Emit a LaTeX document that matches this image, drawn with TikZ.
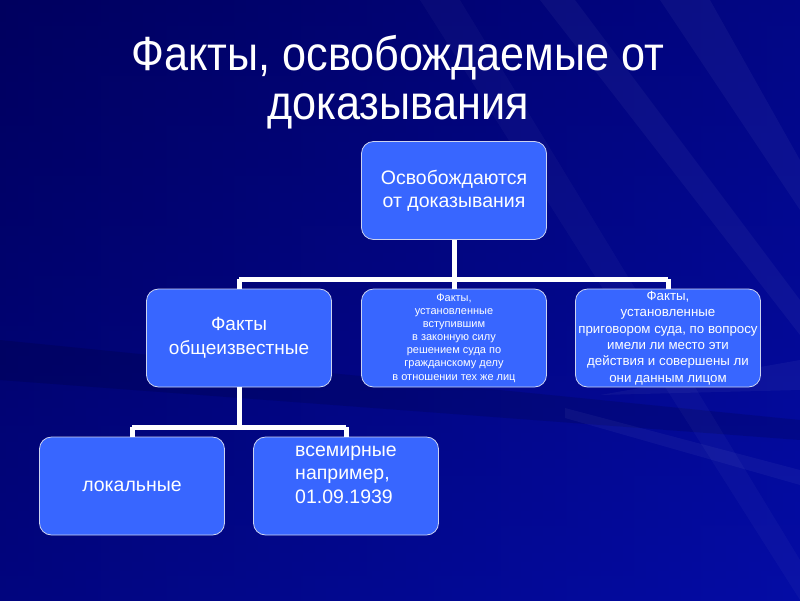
\documentclass[tikz,border=0pt]{standalone}
\usepackage{fontspec}
\setmainfont{Liberation Sans}
\newfontfamily\narrowfont[FakeStretch=0.9]{Liberation Sans}
\definecolor{bgdark}{RGB}{0,0,95}
\definecolor{bgmid}{RGB}{4,12,165}
\definecolor{boxblue}{RGB}{56,102,255}
\definecolor{boxedge}{RGB}{205,212,240}
\tikzset{
  box/.style={draw=boxedge, line width=0.8pt, fill=boxblue, rounded corners=12pt,
    minimum width=185pt, minimum height=98pt, text=white, align=center, inner sep=2pt},
  conn/.style={draw=white, line width=5pt},
  ray/.style={fill=white, opacity=0.045}
}
\begin{document}
\begin{tikzpicture}[x=1pt,y=-1pt]
\useasboundingbox (0,0) rectangle (800,600);
% background
\shade[left color=bgdark, right color=bgmid] (0,0) rectangle (800,600);
\shade[top color=bgdark, bottom color=bgmid, opacity=0.45] (0,0) rectangle (800,600);
\fill[black, opacity=0.12] (0,340) -- (800,420) -- (800,440) -- (0,380) -- cycle;
\fill[ray] (540,0) -- (575,0) -- (800,300) -- (800,335) -- cycle;
\fill[ray] (660,0) -- (710,0) -- (800,160) -- (800,210) -- cycle;
\fill[ray] (565,408) -- (800,470) -- (800,485) -- (565,418) -- cycle;
\fill[ray] (600,395) -- (800,360) -- (800,390) -- cycle;
\fill[ray, opacity=0.03] (420,0) -- (460,0) -- (800,560) -- (800,600) -- cycle;
% title
\node[text=white, font=\narrowfont\fontsize{48}{49}\selectfont, align=center] (title) at (398,82)
  {Факты, освобождаемые от\hspace{14pt}\\доказывания};
% boxes
\node[box, font=\fontsize{19.5}{23}\selectfont] (top) at (454,190.5) {Освобождаются\\ от доказывания};
\node[box, font=\fontsize{19}{24}\selectfont] (known) at (239,338) {Факты\\общеизвестные};
\node[box, font=\fontsize{11}{13.1}\selectfont] (civil) at (454,338)
  {Факты,\\установленные\\вступившим\\в законную силу\\решением суда по\\гражданскому делу\\в отношении тех же лиц};
\node[box, font=\fontsize{13.3}{16.4}\selectfont] (crim) at (668,338)
  {Факты,\\установленные\\приговором суда, по вопросу\\имели ли место эти\\действия и совершены ли\\они данным лицом};
\node[box, font=\fontsize{19.5}{23}\selectfont] (local) at (132,486) {локальные};
\node[box, font=\fontsize{19.5}{23.5}\selectfont, align=left] (world) at (346,486)
  {всемирные\\например,\\01.09.1939\\\mbox{}};
% connectors
\coordinate (j1) at (454,279);
\coordinate (j2) at (239,427);
\draw[conn] (top.south) -- (j1);
\draw[conn] (known.north |- j1) -- (crim.north |- j1);
\draw[conn] (known.north |- j1) -- (known.north);
\draw[conn] (j1) -- (civil.north);
\draw[conn] (crim.north |- j1) -- (crim.north);
\draw[conn] (known.south) -- (j2);
\draw[conn] (local.north |- j2) -- (world.north |- j2);
\draw[conn] (local.north |- j2) -- (local.north);
\draw[conn] (world.north |- j2) -- (world.north);
\end{tikzpicture}
\end{document}
